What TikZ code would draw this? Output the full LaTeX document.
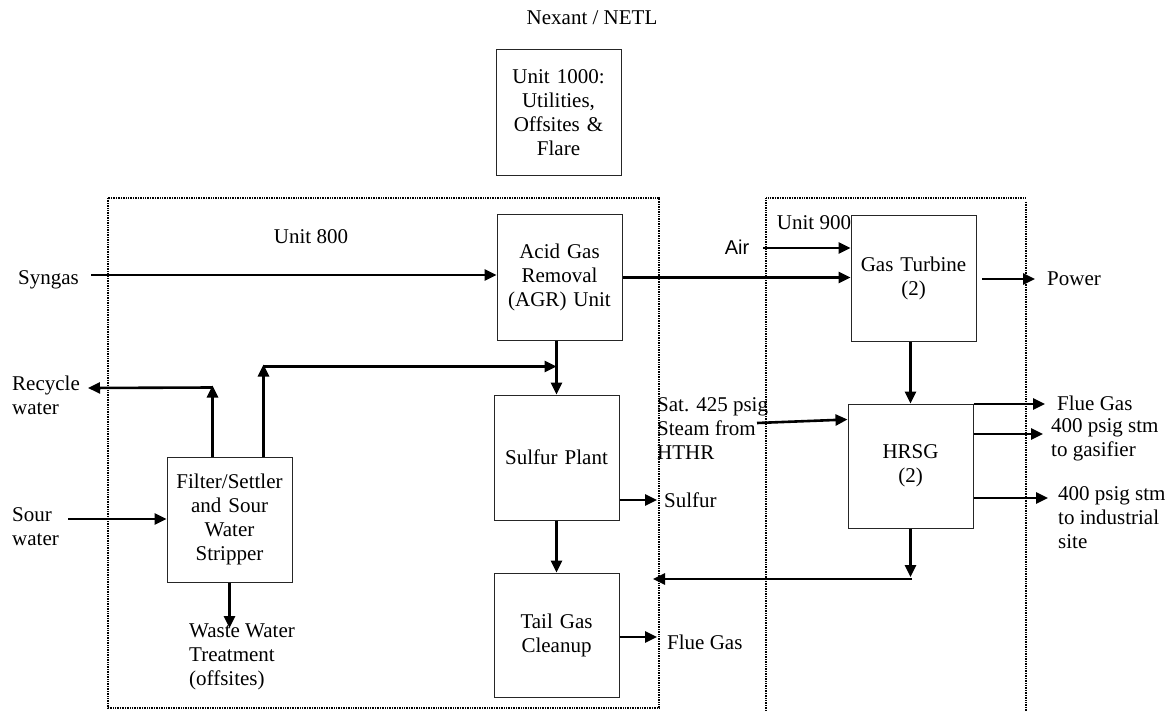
\documentclass[tikz,border=0pt]{standalone}
\usepackage{fontspec}
\setmainfont{Liberation Serif}
\newfontfamily\arialfont{Liberation Sans}
\usetikzlibrary{arrows.meta,calc}
\begin{document}
\begin{tikzpicture}[x=1pt,y=-1pt,
  every node/.style={font=\fontsize{21}{24}\selectfont},
  blockbox/.style={draw=black!85, line width=1pt, minimum width=125pt, minimum height=125pt, text width=122pt, align=center, inner sep=0pt},
  lbl/.style={inner sep=0pt, align=left, anchor=west},
  flow/.style={line width=2.6pt, -{Triangle[length=12pt,width=11pt]}},
  unitline/.style={line width=1.6pt, dash pattern=on 1pt off 0.7pt}]
\useasboundingbox (0,0) rectangle (1169,711);

% unit boundaries
\draw[unitline] (108,198) rectangle (659,708);
\draw[unitline] (766,711) -- (766,198) -- (1026,198);
\draw[unitline] (1026,202) -- (1026,711);

% title
\node[inner sep=0pt] (title) at (592,18) {Nexant / NETL};

% blocks
\node[blockbox, minimum height=126pt] (u1000) at (558.5,113) {Unit 1000:\\Utilities,\\Offsites \&\\Flare};
\node[blockbox] (agr) at (559.5,277.5) {Acid Gas\\Removal\\(AGR) Unit};
\node[blockbox] (gt) at (913.5,278.5) {Gas Turbine\\(2)};
\node[blockbox, minimum height=124pt] (hrsg) at (910.5,466) {HRSG\\(2)};
\node[blockbox] (sulf) at (556.5,457.5) {Sulfur Plant};
\node[blockbox, minimum height=124pt] (tail) at (556.5,635) {Tail Gas\\Cleanup};
\node[blockbox] (filt) at (229.5,519.5) {Filter/Settler\\and Sour\\Water\\Stripper};

% labels
\node[inner sep=0pt] (u800) at (311,237) {Unit 800};
\node[inner sep=0pt] (u900) at (814,223) {Unit 900};
\node[inner sep=0pt, font=\arialfont\fontsize{20}{24}\selectfont] (air) at (737,247) {Air};
\node[lbl] (syngas) at (18,280) {Syngas};
\node[lbl] (recycle) at (12,395) {Recycle\\water};
\node[lbl] (sourw) at (12,527) {Sour\\water};
\node[lbl] (waste) at (189,657) {Waste Water\\Treatment\\(offsites)};
\node[lbl] (power) at (1047,279) {Power};
\node[lbl] (sat) at (657,429) {Sat. 425 psig\\Steam from\\HTHR};
\node[lbl] (sulfur) at (664,500) {Sulfur};
\node[lbl] (flue1) at (667,642) {Flue Gas};
\node[lbl] (flue2) at (1057,403) {Flue Gas};
\node[lbl] (stmg) at (1051,440) {400 psig stm\\to gasifier};
\node[lbl] (stmi) at (1058,518) {400 psig stm\\to industrial\\site};

% free ends
\coordinate (synS) at (91,275);
\coordinate (airS) at (763,248);
\coordinate (pwS) at (982,279);
\coordinate (pwE) at (1035,279);
\coordinate (satS) at (757,423);
\coordinate (fgE) at (1045,404);
\coordinate (stm1) at (1043,434);
\coordinate (stm2) at (1048,498);
\coordinate (hdE) at (910.5,577);
\coordinate (retS) at (912,579);
\coordinate (retE) at (653,579);
\coordinate (sulfE) at (657,500);
\coordinate (tfE) at (657,637);
\coordinate (sourS) at (68,519);
\coordinate (wwE) at (228,628);
\coordinate (recE) at (88,388);
\coordinate (r1) at ($(filt.north west)+(46,0)$);
\coordinate (r2) at ($(filt.north west)+(97,0)$);
\coordinate (r1top) at ($(r1)+(0,-69)$);
\coordinate (r2top) at ($(r2)+(0,-90)$);

% connectors
\draw[flow] (synS) -- (synS -| agr.west);
\draw[flow] (agr.east) -- (agr.east -| gt.west);
\draw[flow] (airS) -- (airS -| gt.west);
\draw[flow] (pwS) -- (pwE);
\draw[flow] (gt.south -| hrsg.north) -- (hrsg.north);
\draw[flow] (satS) -- ($(hrsg.north west)+(0,16)$);
\draw[flow] (fgE -| hrsg.east) -- (fgE);
\draw[flow] (stm1 -| hrsg.east) -- (stm1);
\draw[flow] (stm2 -| hrsg.east) -- (stm2);
\draw[flow] (hrsg.south) -- (hdE);
\draw[flow] (retS) -- (retE);
\draw[flow] (sulf.north |- agr.south) -- (sulf.north);
\draw[flow] (sulfE -| sulf.east) -- (sulfE);
\draw[flow] (sulf.south) -- (tail.north);
\draw[flow] (tfE -| tail.east) -- (tfE);
\draw[flow] (sourS) -- (sourS -| filt.west);
\draw[flow] (filt.south) -- (filt.south |- wwE);
\draw[flow] (r1) -- ($(r1)+(0,-71)$);
\draw[flow] (r1top) -- (recE);
\draw[flow] (r2) -- ($(r2)+(0,-92)$);
\draw[flow] (r2top) -- (r2top -| sulf.north);
\end{tikzpicture}
\end{document}
